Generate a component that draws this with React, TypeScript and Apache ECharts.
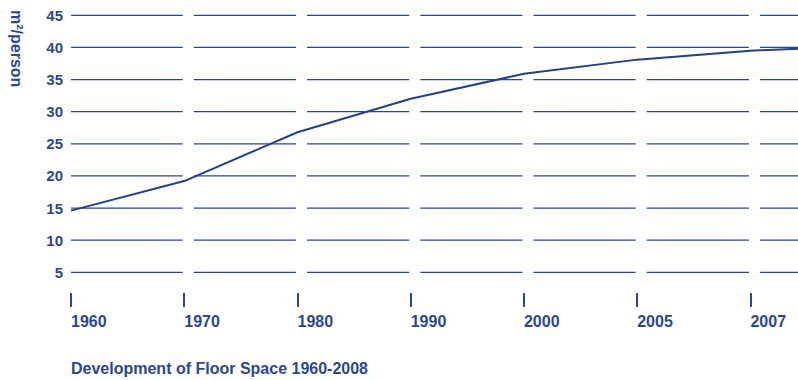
import React, { useEffect, useRef } from "react";
import * as echarts from "echarts";

const years = ["1960", "1970", "1980", "1990", "2000", "2005", "2007", "2008"];
const floorSpace = [14.6, 19.2, 26.8, 32.0, 35.9, 38.1, 39.5, 40.2];
const gridValues = [5, 10, 15, 20, 25, 30, 35, 40, 45];
const tickYears = years.slice(0, 7);
const title = "Development of Floor Space 1960-2008";
const yName = "m²/person";

const BLUE = "#2a4796";
const LINE = "#243f8e";
const FONT = "'Liberation Sans', Arial, sans-serif";
const X_MAX = 6.42;

export default function App() {
  const ref = useRef<HTMLDivElement>(null);
  useEffect(() => {
    const chart = echarts.init(ref.current!, null, { renderer: "svg" });
    const tickIdx = tickYears.map((_, i) => i);
    chart.setOption({
      animation: false,
      grid: { left: 71, right: 0, top: 15.3, bottom: 75.6, containLabel: false },
      xAxis: {
        type: "value",
        min: 0,
        max: X_MAX,
        interval: 1,
        offset: -11.4,
        axisLine: { show: false },
        splitLine: { show: false },
        axisTick: {
          show: true,
          length: 14,
          customValues: tickIdx,
          lineStyle: { color: BLUE, width: 2 },
        },
        axisLabel: {
          customValues: tickIdx,
          formatter: (v: number) => tickYears[Math.round(v)] ?? "",
          align: "left",
          margin: 20,
          color: BLUE,
          fontFamily: FONT,
          fontWeight: "bold",
          fontSize: 16,
        },
      },
      yAxis: {
        type: "value",
        min: 0,
        max: 45,
        interval: 5,
        axisLine: { show: false },
        axisTick: { show: false },
        splitLine: { show: false },
        axisLabel: {
          formatter: (v: number) => (v === 0 ? "" : String(v)),
          margin: 8,
          color: BLUE,
          fontFamily: FONT,
          fontWeight: "bold",
          fontSize: 15,
        },
      },
      graphic: [
        {
          type: "text",
          x: 16,
          y: 10,
          rotation: -Math.PI / 2,
          style: {
            text: yName,
            fill: BLUE,
            font: `bold 16px ${FONT}`,
            textAlign: "left",
            textVerticalAlign: "middle",
          },
        },
        {
          type: "text",
          left: 71,
          top: 360,
          style: {
            text: title,
            fill: BLUE,
            font: `bold 16px ${FONT}`,
          },
        },
      ],
      series: [
        {
          type: "custom",
          z: 1,
          silent: true,
          data: gridValues.map((v) => [0, v]),
          renderItem: (params: any, api: any) => {
            const y = api.value(1);
            const children: any[] = [];
            for (let i = 0; i < tickYears.length; i++) {
              const a = api.coord([i, y]);
              const b = api.coord([i + 1 < tickYears.length ? i + 1 : X_MAX, y]);
              const x0 = a[0] + (i === 0 ? 0 : 9.5);
              const x1 = i + 1 < tickYears.length ? b[0] - 1.5 : b[0];
              children.push({
                type: "line",
                shape: { x1: x0, y1: a[1], x2: x1, y2: a[1] },
                style: { stroke: BLUE, lineWidth: 1.3 },
              });
            }
            return { type: "group", children };
          },
        },
        {
          type: "line",
          z: 3,
          data: floorSpace.map((v, i) => [i, v]),
          symbol: "none",
          clip: true,
          lineStyle: { color: LINE, width: 2 },
        },
      ],
    });
    return () => chart.dispose();
  }, []);
  return <div ref={ref} style={{ width: 798, height: 380, position: "absolute", left: 0, top: 0 }} />;
}
